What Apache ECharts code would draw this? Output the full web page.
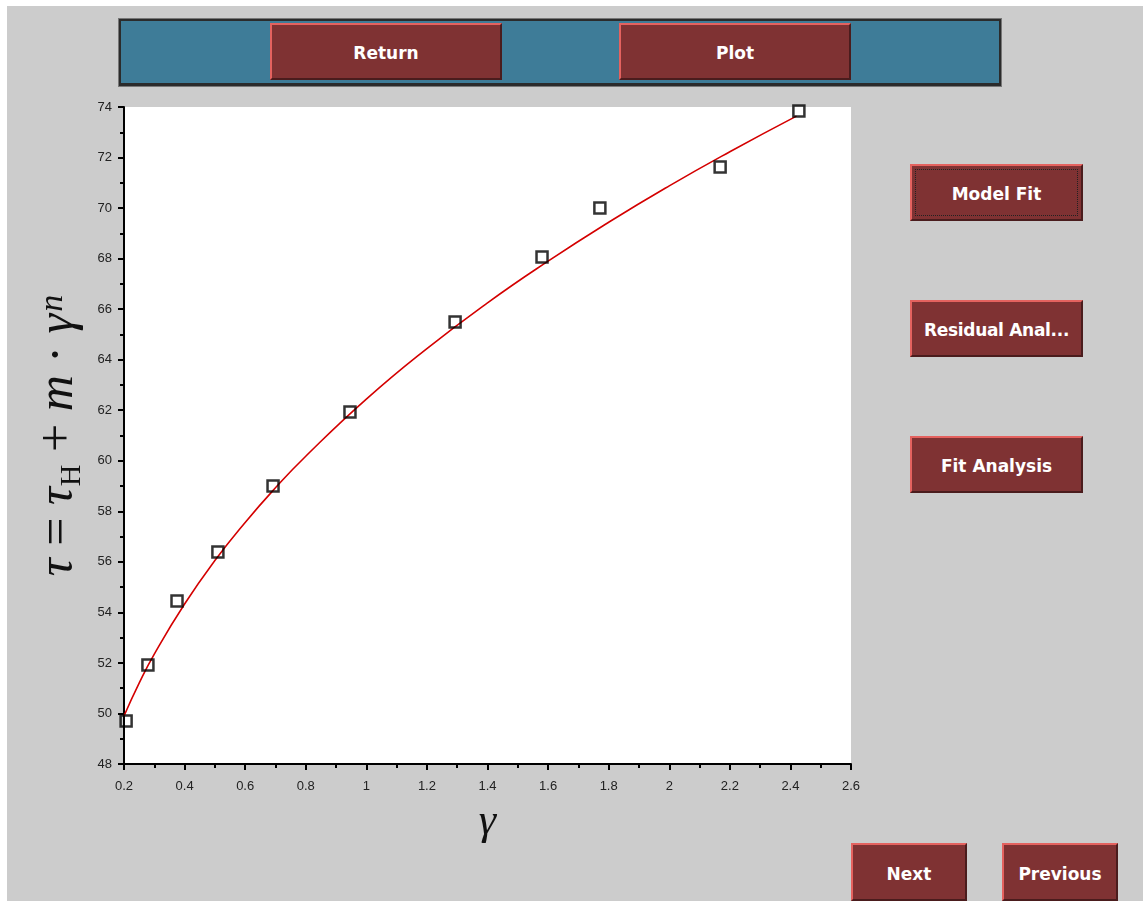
<!DOCTYPE html>
<html>
<head>
<meta charset="utf-8">
<script src="https://cdn.jsdelivr.net/npm/echarts@6/dist/echarts.min.js"></script>
<style>
  html, body { margin: 0; padding: 0; width: 1143px; height: 901px; background: #ffffff; overflow: hidden; }
  #panel { position: absolute; left: 7px; top: 6px; width: 1136px; height: 895px; background: #cccccc; }
  #chart { position: absolute; left: 0; top: 0; width: 1143px; height: 901px; }
  #toolbar { position: absolute; left: 119px; top: 19px; width: 878px; height: 62px;
    background: #3e7c98; border: 2px solid #2b2b2b; border-bottom-width: 3px; box-shadow: 0 0 0 1px #777; }
  .btn { position: absolute; box-sizing: border-box; background: #7f3233;
    border-top: 2px solid #e4625f; border-left: 2px solid #e4625f;
    border-bottom: 2px solid #4a1c1d; border-right: 2px solid #4a1c1d;
    color: #ffffff; font-family: "DejaVu Sans", sans-serif; font-weight: bold; font-size: 17px;
    display: flex; align-items: center; justify-content: center; white-space: nowrap; padding-top: 3px; }
  .focus::after { content: ""; position: absolute; left: 3px; top: 3px; right: 3px; bottom: 3px; border: 1px dotted #222; }
</style>
</head>
<body>
<div id="panel"></div>
<div id="toolbar"></div>
<div class="btn" style="left:270px;top:23px;width:232px;height:57px;">Return</div>
<div class="btn" style="left:619px;top:23px;width:232px;height:57px;">Plot</div>
<div class="btn focus" style="left:910px;top:164px;width:173px;height:57px;">Model Fit</div>
<div class="btn" style="left:910px;top:300px;width:173px;height:57px;letter-spacing:-0.3px;">Residual Anal...</div>
<div class="btn" style="left:910px;top:436px;width:173px;height:57px;">Fit Analysis</div>
<div class="btn" style="left:851px;top:843px;width:116px;height:58px;">Next</div>
<div class="btn" style="left:1002px;top:843px;width:116px;height:58px;">Previous</div>
<div id="chart"></div>
<script>
// Measured shear rate (gamma) and stress (tau)
const gammaData = [0.207, 0.279, 0.375, 0.510, 0.692, 0.946, 1.293, 1.580, 1.771, 2.168, 2.428];
const tauData   = [49.70, 51.92, 54.45, 56.39, 59.00, 61.93, 65.49, 68.06, 70.00, 71.63, 73.84];

// Fitted model curve tau = tauH + m * gamma^n, sampled along gamma
const fitGamma = [0.2, 0.25, 0.3, 0.4, 0.5, 0.6, 0.7, 0.8, 1.0, 1.2, 1.4, 1.6, 1.8, 2.0, 2.2, 2.42];
const fitTau   = [49.90, 51.20, 52.35, 54.33, 56.05, 57.56, 58.93, 60.18, 62.44, 64.44, 66.25, 67.90, 69.44, 70.88, 72.23, 73.64];

// Axis ranges
const xMin = 0.2, xMax = 2.6, xStep = 0.2;
const yMin = 48, yMax = 74, yStep = 2;

const chart = echarts.init(document.getElementById('chart'), null, { renderer: 'canvas' });

const pts = gammaData.map((g, i) => [g, tauData[i]]);
const fit = fitGamma.map((g, i) => [g, fitTau[i]]);

const mathFont = '"Liberation Serif", "DejaVu Serif", serif';
const axisCommon = {
  axisLine: { show: true, onZero: false, lineStyle: { color: '#000', width: 2 } },
  axisTick: { show: true, inside: false, length: 6, lineStyle: { color: '#000', width: 2 } },
  minorTick: { show: true, splitNumber: 2, length: 4, lineStyle: { color: '#000', width: 2 } },
  splitLine: { show: false },
  axisLabel: { color: '#222', fontSize: 13, fontFamily: '"Liberation Sans", Arial, sans-serif' }
};

chart.setOption({
  backgroundColor: 'transparent',
  animation: false,
  grid: {
    left: 124, top: 107, width: 727, height: 657,
    show: true, backgroundColor: '#ffffff', borderWidth: 0
  },
  xAxis: Object.assign({}, axisCommon, {
    type: 'value', min: xMin, max: xMax, interval: xStep,
    axisLabel: Object.assign({}, axisCommon.axisLabel, { margin: 16 }),
    name: 'γ', nameLocation: 'middle', nameGap: 36,
    nameTextStyle: { fontFamily: mathFont, fontStyle: 'italic', fontSize: 44, color: '#111' }
  }),
  yAxis: Object.assign({}, axisCommon, {
    type: 'value', min: yMin, max: yMax, interval: yStep,
    axisLabel: Object.assign({}, axisCommon.axisLabel, { margin: 12 }),
    name: '{i|τ}{r| = }{i|τ}{sub|H}{r| + }{i|m}{r| · }{i|γ}{sup|n}',
    nameLocation: 'middle', nameRotate: 90, nameGap: 37,
    nameTextStyle: {
      color: '#111',
      rich: {
        i: { fontFamily: mathFont, fontStyle: 'italic', fontSize: 50, lineHeight: 56, color: '#111' },
        r: { fontFamily: mathFont, fontSize: 50, lineHeight: 56, color: '#111' },
        sub: { fontFamily: mathFont, fontSize: 30, lineHeight: 30, verticalAlign: 'bottom', color: '#111', padding: [0, 0, 0, 1] },
        sup: { fontFamily: mathFont, fontStyle: 'italic', fontSize: 34, lineHeight: 34, verticalAlign: 'top', color: '#111', padding: [5, 0, 0, 2] }
      }
    }
  }),
  series: [
    {
      type: 'line', data: fit, smooth: true, showSymbol: false, clip: true,
      lineStyle: { color: '#d40000', width: 1.6 }, z: 2
    },
    {
      type: 'scatter', data: pts, symbol: 'rect', symbolSize: 11, clip: true,
      itemStyle: { color: 'rgba(255,255,255,0)', borderColor: '#000', borderWidth: 2.5 }, z: 3
    }
  ]
});
</script>
</body>
</html>
